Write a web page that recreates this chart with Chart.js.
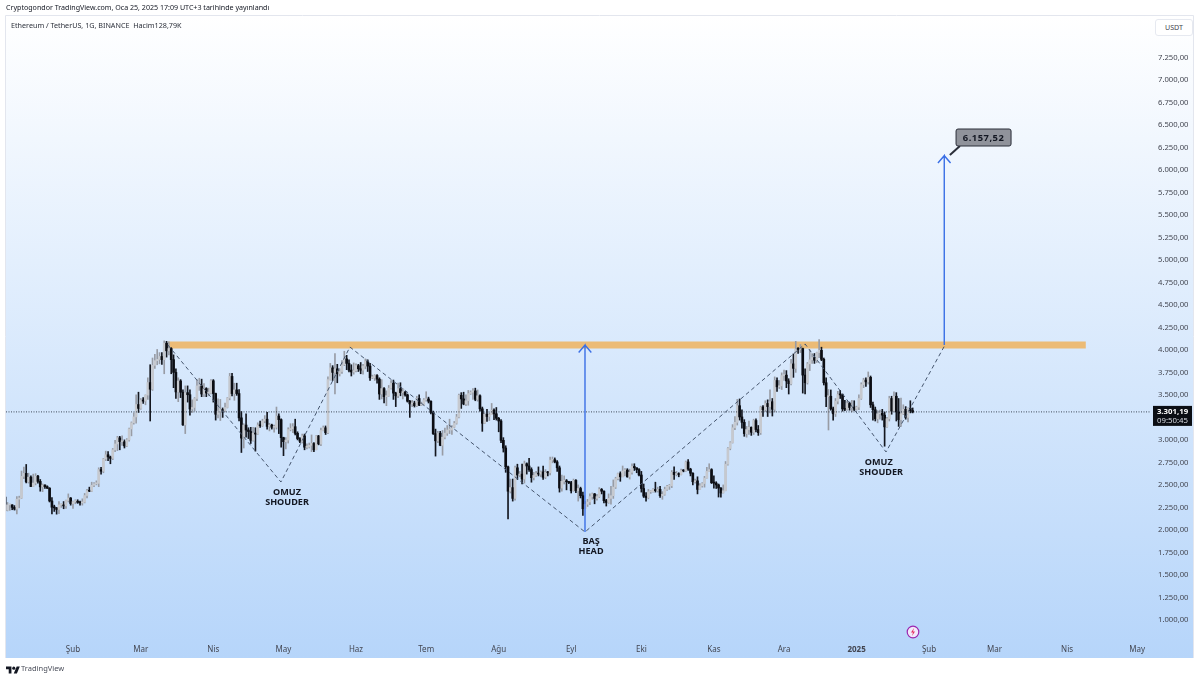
<!DOCTYPE html>
<html lang="tr">
<head>
<meta charset="utf-8">
<title>ETH/USDT</title>
<script src="https://cdn.jsdelivr.net/npm/chart.js@4"></script>
<style>
  html, body { margin: 0; background: #fff; width: 1200px; height: 680px; overflow: hidden; }
  body { position: relative; font-family: "Noto Sans", sans-serif; color: #131722; }
  canvas { position: absolute; left: 0; top: 0; }
  .txt { position: absolute; white-space: pre; line-height: 1; }
  #published { left: 6px; top: 4px; font-size: 7.1px; }
  #legend { left: 11px; top: 22px; font-size: 7.2px; color: #2a2e39; }
  #unit { left: 1155px; top: 19px; width: 36px; height: 15px; line-height: 15px; border: 1px solid #e6e9f0; border-radius: 3px; font-size: 7.1px; color: #434651; text-align: center; background: #fff; }
  #brand { left: 21px; top: 665px; font-size: 7.5px; color: #4a4e5a; }
  #logo { position: absolute; left: 6px; top: 665px; }
  #bolt { position: absolute; left: 906px; top: 625px; }
</style>
</head>
<body>
<canvas id="chart" width="1200" height="680"></canvas>
<div class="txt" id="published">Cryptogondor TradingView.com, Oca 25, 2025 17:09 UTC+3 tarihinde yayınlandı</div>
<div class="txt" id="legend">Ethereum / TetherUS, 1G, BINANCE  Hacim128,79K</div>
<div class="txt" id="unit">USDT</div>
<svg id="bolt" width="14" height="14" viewBox="0 0 14 14"><circle cx="7" cy="7" r="5.8" fill="#f3e9fb" stroke="#9c27b0" stroke-width="1.2"/><path d="M8 3 L5 7.5 H7 L6 11 L9 6.5 H7 Z" fill="#e53060"/></svg>
<svg id="logo" width="14" height="11" viewBox="0 0 36 28"><path d="M14 22H7V11H0V4h14v18zM28 22h-8l7.5-18h8L28 22z" fill="#131722"/><circle cx="20" cy="8" r="4" fill="#131722"/></svg>
<div class="txt" id="brand">TradingView</div>
<script>
// daily candles from 3 Jan 2024, x value = days since 1 Jan 2024
const firstDay = 2;

const opens = [
  2356,2209,2268,2268,2240,2221,2331,2344,2585,2618,2524,2576,2472,2511,2587,2529,2468,2489,2470,2453,2311,2242,2235,2217,2268,2268,2257,2317,2344,
  2283,2304,2309,2296,2290,2298,2372,2425,2420,2486,2502,2507,2660,2642,2778,2825,2801,2785,2880,2945,3013,2970,2970,2923,2990,3112,3180,3245,3383,
  3340,3433,3421,3488,3627,3553,3818,3870,3885,3917,3881,4065,3980,4005,3882,3740,3523,3645,3520,3157,3515,3492,3333,3350,3450,3590,3590,3500,3560,3510,3510,
  3647,3505,3275,3310,3327,3317,3350,3455,3695,3505,3545,3505,3235,3010,3155,3100,3083,2985,3065,3055,3155,3147,3200,3220,3140,3155,3130,3130,3255,3215,
  3015,2970,2988,3105,3115,3137,3063,3005,2975,3035,2909,2912,2930,2950,2880,3035,2945,3095,3125,3070,3660,3790,3740,3780,3725,3750,3825,3890,3840,3765,3745,
  3760,3815,3780,3765,3810,3865,3810,3680,3680,3705,3665,3500,3560,3470,3480,3565,3620,3510,3480,3560,3515,3520,3490,3420,3390,3400,3370,3450,3375,3380,
  3435,3445,3420,3295,3060,2980,3065,2930,3020,3065,3100,3100,3130,3175,3245,3485,3445,3390,3425,3505,3520,3535,3440,3480,3335,3175,3275,3250,3270,3320,3280,
  3230,3200,2985,2900,2690,2420,2460,2340,2680,2600,2610,2555,2725,2700,2660,2570,2595,2615,2610,2635,2575,2630,2625,2765,2770,2745,2680,2455,2530,2530,2525,
  2515,2425,2540,2425,2450,2370,2225,2275,2300,2360,2390,2340,2360,2440,2420,2315,2295,2340,2370,2465,2560,2615,2580,2645,2655,2580,2630,2695,2680,2660,
  2600,2450,2365,2350,2415,2415,2440,2425,2440,2370,2385,2440,2475,2480,2630,2605,2615,2605,2650,2645,2745,2665,2620,2525,2535,2440,2480,2505,2565,2640,2660,
  2515,2510,2490,2455,2400,2425,2720,2895,2960,3125,3185,3370,3245,3185,3060,3105,3130,3075,3205,3105,3070,3355,3325,3395,3360,3415,3330,3650,3580,3590,
  3705,3710,3645,3615,3835,3785,4000,3995,4005,3710,3625,3835,3880,3905,3875,3960,3985,3885,3625,3470,3475,3335,3280,3420,3495,3490,3335,3330,3395,3350,3355,
  3330,3355,3450,3605,3655,3635,3685,3380,3325,3225,3280,3285,3265,3135,3225,3450,3310,3475,3300,3215,3280,3330,3240,3340,3315
];
const highs = [
  2385,2295,2277,2270,2260,2360,2365,2644,2689,2717,2620,2590,2610,2615,2595,2550,2500,2490,2480,2460,2350,2265,2240,2305,2280,2305,2320,2390,2350,
  2310,2325,2325,2310,2335,2395,2440,2465,2520,2515,2535,2680,2685,2785,2865,2860,2810,2895,2985,3030,3030,3035,2990,3005,3120,3190,3290,3490,3520,
  3450,3460,3490,3680,3825,3900,3940,3995,3960,3960,4090,4085,4080,4015,3935,3780,3680,3660,3545,3590,3590,3545,3435,3460,3660,3675,3665,3615,3570,3565,3660,
  3660,3510,3445,3440,3345,3400,3460,3730,3730,3620,3620,3550,3305,3170,3280,3125,3130,3130,3125,3180,3200,3220,3260,3295,3175,3165,3155,3355,3280,3225,
  3020,3015,3125,3170,3170,3220,3080,3015,3055,3055,2945,2955,3045,2960,3040,3040,3120,3145,3145,3690,3840,3815,3950,3830,3780,3870,3975,3930,3880,3825,3845,
  3835,3830,3850,3830,3890,3880,3840,3710,3715,3715,3680,3660,3570,3535,3595,3650,3655,3520,3620,3625,3560,3530,3500,3430,3430,3420,3475,3490,3410,3450,
  3525,3465,3425,3310,3110,3085,3085,3095,3120,3150,3220,3150,3195,3275,3500,3515,3520,3490,3540,3535,3560,3565,3545,3490,3355,3290,3330,3290,3395,3335,3350,
  3240,3215,3015,2925,2700,2555,2555,2700,2720,2640,2720,2755,2735,2785,2680,2630,2640,2690,2645,2700,2660,2640,2800,2800,2790,2760,2700,2600,2590,2550,2530,
  2530,2555,2550,2490,2465,2410,2310,2330,2390,2400,2395,2385,2460,2450,2425,2330,2390,2475,2545,2575,2620,2635,2700,2670,2670,2665,2725,2725,2680,2670,
  2640,2500,2405,2440,2430,2450,2520,2465,2475,2415,2465,2485,2495,2650,2690,2640,2625,2665,2660,2755,2770,2675,2625,2555,2580,2505,2515,2585,2685,2725,2670,
  2590,2525,2500,2460,2490,2750,2905,2970,3160,3250,3440,3445,3325,3215,3140,3200,3135,3220,3225,3150,3365,3370,3425,3435,3545,3450,3690,3680,3650,3735,
  3765,3760,3670,3885,3945,4085,4015,4050,4010,3780,3850,3990,3950,3950,3965,4105,4020,3900,3680,3550,3545,3355,3450,3530,3540,3500,3430,3420,3410,3430,3425,
  3365,3490,3625,3675,3680,3745,3700,3410,3355,3315,3320,3330,3300,3240,3475,3475,3525,3515,3450,3455,3380,3360,3345,3425,3345
];
const lows = [
  2100,2201,2207,2214,2210,2168,2235,2340,2560,2512,2510,2470,2470,2490,2510,2420,2415,2450,2450,2300,2168,2195,2165,2170,2240,2225,2230,2300,2265,
  2230,2280,2285,2265,2265,2290,2345,2415,2415,2470,2490,2470,2610,2625,2760,2760,2725,2770,2860,2870,2880,2930,2900,2915,2975,3035,3165,3175,3295,
  3330,3395,3380,3440,3200,3540,3785,3825,3835,3830,3725,3910,3935,3725,3570,3450,3415,3460,3150,3060,3410,3265,3295,3310,3425,3540,3470,3470,3470,3480,3500,
  3410,3210,3235,3205,3240,3300,3345,3435,3480,3430,3485,3200,2850,2900,3020,3005,2950,2975,2865,3050,3130,3140,3180,3110,3090,3110,3075,3110,3060,2910,
  2815,2890,2955,3090,3070,3045,2990,2960,2955,2880,2890,2900,2860,2860,2880,2935,2925,3090,3050,3060,3655,3650,3500,3625,3700,3730,3815,3770,3745,3700,3720,
  3745,3750,3725,3720,3780,3750,3650,3670,3650,3620,3440,3445,3400,3370,3475,3555,3440,3360,3460,3480,3445,3475,3410,3240,3360,3355,3360,3370,3370,3375,
  3420,3400,3280,3050,2810,2960,2925,2820,3000,3040,3060,3050,3125,3165,3235,3340,3380,3370,3375,3495,3440,3425,3420,3310,3085,3170,3195,3205,3270,3215,3210,
  3080,2960,2855,2630,2111,2400,2310,2320,2550,2580,2500,2510,2610,2640,2520,2545,2585,2590,2580,2550,2560,2590,2600,2735,2735,2640,2410,2420,2500,2435,2505,
  2400,2420,2405,2310,2345,2150,2225,2250,2270,2330,2280,2320,2350,2390,2290,2255,2285,2275,2340,2450,2545,2530,2580,2590,2575,2555,2610,2650,2625,2590,
  2410,2350,2310,2335,2395,2410,2410,2410,2350,2330,2375,2430,2440,2460,2550,2590,2580,2600,2635,2640,2650,2590,2490,2510,2390,2440,2465,2465,2565,2640,2505,
  2455,2450,2355,2355,2400,2425,2710,2880,2955,3105,3155,3210,3120,3030,3020,3050,3040,3050,3080,3040,3050,3250,3305,3250,3290,3255,3300,3530,3560,3550,
  3650,3570,3500,3600,3685,3740,3950,3960,3510,3500,3610,3760,3840,3840,3850,3905,3870,3600,3360,3100,3320,3210,3250,3390,3450,3310,3315,3320,3320,3300,3315,
  3320,3325,3440,3570,3585,3610,3350,3210,3200,3180,3220,3210,2920,3130,3200,3275,3300,3200,3140,3140,3270,3220,3190,3290,3290
];
const closes = [
  2209,2268,2268,2240,2221,2331,2344,2585,2618,2524,2576,2472,2511,2587,2529,2468,2489,2470,2453,2311,2242,2235,2217,2268,2268,2257,2317,2344,2283,
  2304,2309,2296,2290,2298,2372,2425,2420,2486,2502,2507,2660,2642,2778,2825,2801,2785,2880,2945,3013,2970,2970,2923,2990,3112,3180,3245,3383,3340,
  3433,3421,3488,3627,3553,3818,3870,3885,3917,3881,4065,3980,4005,3882,3740,3523,3645,3520,3157,3515,3492,3333,3350,3450,3590,3590,3500,3560,3510,3510,3647,
  3505,3275,3310,3327,3317,3350,3455,3695,3505,3545,3505,3235,3010,3155,3100,3083,2985,3065,3055,3155,3147,3200,3220,3140,3155,3130,3130,3255,3215,3015,
  2970,2988,3105,3115,3137,3063,3005,2975,3035,2909,2912,2930,2950,2880,3035,2945,3095,3125,3070,3660,3790,3740,3780,3725,3750,3825,3890,3840,3765,3745,3760,
  3815,3780,3765,3810,3865,3810,3680,3680,3705,3665,3500,3560,3470,3480,3565,3620,3510,3480,3560,3515,3520,3490,3420,3390,3400,3370,3450,3375,3380,3435,
  3445,3420,3295,3060,2980,3065,2930,3020,3065,3100,3100,3130,3175,3245,3485,3445,3390,3425,3505,3520,3535,3440,3480,3335,3175,3275,3250,3270,3320,3280,3230,
  3200,2985,2900,2690,2420,2460,2340,2680,2600,2610,2555,2725,2700,2660,2570,2595,2615,2610,2635,2575,2630,2625,2765,2770,2745,2680,2455,2530,2530,2525,2515,
  2425,2540,2425,2450,2370,2225,2275,2300,2360,2390,2340,2360,2440,2420,2315,2295,2340,2370,2465,2560,2615,2580,2645,2655,2580,2630,2695,2680,2660,2600,
  2450,2365,2350,2415,2415,2440,2425,2440,2370,2385,2440,2475,2480,2630,2605,2615,2605,2650,2645,2745,2665,2620,2525,2535,2440,2480,2505,2565,2640,2660,2515,
  2510,2490,2455,2400,2425,2720,2895,2960,3125,3185,3370,3245,3185,3060,3105,3130,3075,3205,3105,3070,3355,3325,3395,3360,3415,3330,3650,3580,3590,3705,
  3710,3645,3615,3835,3785,4000,3995,4005,3710,3625,3835,3880,3905,3875,3960,3985,3885,3625,3470,3475,3335,3280,3420,3495,3490,3335,3330,3395,3350,3355,3330,
  3355,3450,3605,3655,3635,3685,3380,3325,3225,3280,3285,3265,3135,3225,3450,3310,3475,3300,3215,3280,3330,3240,3340,3315,3301
];

// axis labels
const monthDays = [31,60,91,121,152,182,213,244,274,305,335,366,397,425,456,486];
const monthLabels = ["Şub","Mar","Nis","May","Haz","Tem","Ağu","Eyl","Eki","Kas","Ara","2025","Şub","Mar","Nis","May"];
const priceTicks = [1000,1250,1500,1750,2000,2250,2500,2750,3000,3500,3750,4000,4250,4500,4750,5000,5250,5500,5750,6000,6250,6500,6750,7000,7250];

// drawn objects on the chart, in days and price
const zoneDays = [71.6, 464];
const zonePrice = 4044;
const patternDays = [71.6,119.9,149.4,249.9,344,378.6,403.8];
const patternPrices = [4044,2522,4022,1967,4056,2856,4044];
const arrowDays = [249.9,403.5];
const arrowBases = [1967,4044];
const arrowTips = [4044,6148];
const lastPrice = 3301.19;
const countdown = "09:50:45";
const targetLabel = "6.157,52";
const targetDay = 420.3;
const targetPrice = 6350;
const pointerDays = [405.9,410.2];
const pointerPrices = [6155,6255];
const noteTexts = ["OMUZ","SHOUDER","BAŞ","HEAD","OMUZ","SHOUDER"];
const noteDays = [122.5,122.5,252.5,252.5,375.5,376.5];
const notePrices = [2411,2300,1867,1756,2744,2633];

const dayMin = 2.36, dayMax = 491.46;
const priceMin = 766.67, priceMax = 7700;

const FONT = '"Noto Sans", sans-serif';
const formatPrice = v => v.toLocaleString("tr-TR", { minimumFractionDigits: 2, maximumFractionDigits: 2 });
const isUp = i => closes[i] >= opens[i];

const lineSet = (data, color, width, extra) => Object.assign({
  type: "line", data, borderColor: color, borderWidth: width, pointRadius: 0, tension: 0, fill: false, order: 1
}, extra);

// arrow = shaft plus a chevron at the tip
function arrowPath(i) {
  const d = arrowDays[i], tip = arrowTips[i];
  return [
    { x: d, y: arrowBases[i] }, { x: d, y: tip },
    { x: d - 2.7, y: tip - 82 }, { x: d, y: tip }, { x: d + 2.7, y: tip - 82 }
  ];
}

const backdrop = {
  id: "backdrop",
  beforeDraw(chart) {
    const c = chart.ctx;
    const g = c.createLinearGradient(0, 16, 0, 658);
    g.addColorStop(0, "#ffffff");
    g.addColorStop(1, "#b6d5fa");
    c.save();
    c.fillStyle = g;
    c.fillRect(6, 16, 1187, 642);
    c.strokeStyle = "#e3e6ee";
    c.lineWidth = 1;
    c.beginPath();
    c.moveTo(5.5, 658);
    c.lineTo(5.5, 15.5);
    c.lineTo(1193.5, 15.5);
    c.lineTo(1193.5, 658);
    c.stroke();
    c.restore();
  }
};

const notes = {
  id: "notes",
  afterDatasetsDraw(chart) {
    const c = chart.ctx, x = chart.scales.x, y = chart.scales.y;
    c.save();
    c.textAlign = "center";
    c.textBaseline = "middle";

    c.fillStyle = "#131722";
    c.font = "700 9.1px " + FONT;
    noteTexts.forEach((t, i) => c.fillText(t, x.getPixelForValue(noteDays[i]), y.getPixelForValue(notePrices[i])));

    // target callout
    const tx = x.getPixelForValue(targetDay), ty = y.getPixelForValue(targetPrice);
    c.beginPath();
    c.roundRect(tx - 27.5, ty - 8.5, 55, 17, 2);
    c.fillStyle = "#90939b";
    c.fill();
    c.strokeStyle = "#2a2e39";
    c.lineWidth = 1;
    c.stroke();
    c.fillStyle = "#131722";
    c.font = "700 9.4px " + FONT;
    c.letterSpacing = "0.5px";
    c.fillText(targetLabel, tx, ty + 0.5);
    c.letterSpacing = "0px";

    // last price tag on the price axis
    const py = y.getPixelForValue(lastPrice);
    c.fillStyle = "#0b0e14";
    c.fillRect(1153, py - 6, 39, 20);
    c.fillStyle = "#ffffff";
    c.font = "700 7.8px " + FONT;
    c.fillText(formatPrice(lastPrice), 1172.5, py - 0.5);
    c.fillStyle = "#d8dbe2";
    c.font = "7.8px " + FONT;
    c.fillText(countdown, 1172.5, py + 9);
    c.restore();
  }
};

new Chart(document.getElementById("chart"), {
  type: "bar",
  data: {
    datasets: [
      lineSet(patternDays.map((d, i) => ({ x: d, y: patternPrices[i] })), "#46566e", 1, { borderDash: [4, 3], order: 1 }),
      lineSet(arrowPath(0), "#3a6fe6", 1.4, { order: 0 }),
      lineSet(arrowPath(1), "#3a6fe6", 1.4, { order: 0 }),
      lineSet(pointerDays.map((d, i) => ({ x: d, y: pointerPrices[i] })), "#2a2e39", 2, { order: 0 }),
      lineSet([{ x: dayMin, y: lastPrice }, { x: dayMax, y: lastPrice }], "#1c2230", 0.8, { borderDash: [1, 1.5], order: 1 }),
      lineSet(zoneDays.map(d => ({ x: d, y: zonePrice })), "#ecbb76", 7, { order: 6, borderCapStyle: "butt" }),
      {
        label: "wick",
        data: opens.map((o, i) => ({ x: firstDay + i, y: [lows[i], highs[i]] })),
        backgroundColor: opens.map((o, i) => isUp(i) ? "#989ca5" : "#14171f"),
        barThickness: 1, grouped: false, order: 4
      },
      {
        label: "body",
        data: opens.map((o, i) => ({ x: firstDay + i, y: [Math.min(o, closes[i]), Math.max(o, closes[i])] })),
        backgroundColor: opens.map((o, i) => isUp(i) ? "#c6c9cf" : "#0b0d13"),
        barThickness: 2, minBarLength: 1, grouped: false, order: 3
      }
    ]
  },
  options: {
    responsive: false,
    animation: false,
    events: [],
    layout: { padding: { left: 6, top: 16, right: 0, bottom: 22 } },
    plugins: { legend: { display: false }, tooltip: { enabled: false } },
    scales: {
      x: {
        type: "linear",
        offset: false,
        min: dayMin,
        max: dayMax,
        grid: { display: false, drawTicks: false },
        border: { display: false },
        afterBuildTicks: s => { s.ticks = monthDays.map(v => ({ value: v })); },
        afterFit: s => { s.height = 18; },
        ticks: {
          autoSkip: false,
          maxRotation: 0,
          padding: 5,
          color: "#434651",
          font: c => ({ family: FONT, size: 8, weight: c.tick && c.tick.value === 366 ? "700" : "400" }),
          callback: v => monthLabels[monthDays.indexOf(v)]
        }
      },
      y: {
        type: "linear",
        position: "right",
        min: priceMin,
        max: priceMax,
        grid: { display: false, drawTicks: false },
        border: { display: false },
        afterBuildTicks: s => { s.ticks = priceTicks.map(v => ({ value: v })); },
        afterFit: s => { s.width = 50; },
        ticks: {
          autoSkip: false,
          padding: 8,
          labelOffset: 1,
          color: "#434651",
          font: { family: FONT, size: 7.7 },
          callback: v => formatPrice(v)
        }
      }
    }
  },
  plugins: [backdrop, notes]
});
</script>
</body>
</html>
